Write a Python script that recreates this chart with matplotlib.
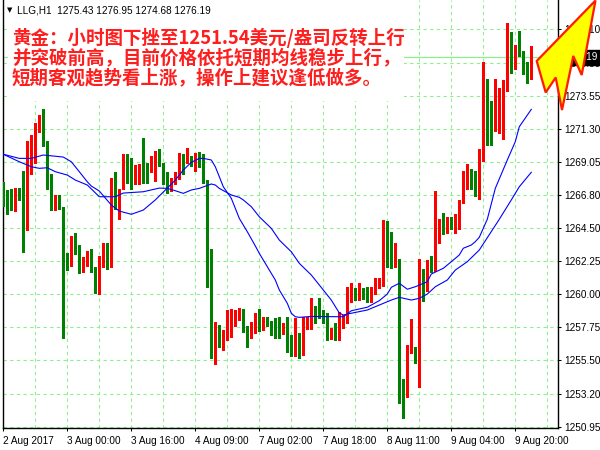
import matplotlib
matplotlib.use('Agg')
import matplotlib.pyplot as plt
from matplotlib.patches import Polygon, Rectangle
import numpy as np

# ---------------- data ----------------
opens = [1267.15, 1266.70, 1266.54, 1265.67, 1267.09, 1266.88, 1264.42, 1269.61, 1270.18, 1271.07,
         1271.94, 1270.12, 1268.02, 1266.29, 1266.52, 1265.95, 1262.78, 1261.92, 1263.58, 1263.05,
         1261.80, 1262.26, 1262.53, 1261.85, 1261.00, 1261.87, 1263.22, 1261.92, 1267.50, 1266.29,
         1267.73, 1268.94, 1268.46, 1267.66, 1268.18, 1268.64, 1268.41, 1268.46, 1268.46, 1269.07,
         1268.94, 1268.14, 1267.27, 1267.61, 1267.91, 1269.39, 1268.98, 1269.21, 1269.03, 1269.44,
         1268.80, 1267.73, 1261.74, 1256.81, 1257.27, 1256.63, 1257.11, 1257.74, 1258.20, 1258.31,
         1258.47, 1257.63, 1257.11, 1257.49, 1258.41, 1257.79, 1258.41, 1257.95, 1257.56, 1257.38,
         1257.33, 1257.95, 1257.11, 1255.85, 1256.58, 1256.20, 1257.71, 1257.78, 1258.99, 1258.85,
         1258.51, 1258.40, 1257.03, 1257.37, 1257.21, 1257.71, 1258.05, 1259.83, 1260.24, 1259.65,
         1259.94, 1259.94, 1259.67, 1260.01, 1260.45, 1260.56, 1263.77, 1263.70, 1262.22, 1262.38,
         1253.50, 1253.12, 1256.07, 1256.30, 1255.78, 1261.42, 1260.28, 1261.92, 1261.58, 1264.77,
         1264.93, 1264.84, 1265.06, 1264.47, 1264.99, 1266.25, 1267.66, 1268.00, 1267.50, 1266.59,
         1269.10, 1274.68, 1272.36, 1271.38, 1272.68, 1272.75, 1274.23, 1276.55, 1275.78, 1277.49,
         1276.62, 1275.71, 1275.43]
highs = [1267.66, 1267.15, 1267.20, 1267.27, 1267.27, 1268.41, 1270.46, 1270.91, 1271.71, 1272.21,
         1272.67, 1270.46, 1268.18, 1266.81, 1266.81, 1265.95, 1262.83, 1264.01, 1264.15, 1263.35,
         1262.55, 1262.92, 1263.10, 1261.85, 1262.60, 1263.47, 1263.51, 1267.96, 1268.34, 1267.16,
         1269.55, 1269.55, 1269.28, 1268.80, 1268.87, 1270.69, 1268.98, 1269.44, 1269.78, 1269.89,
         1268.98, 1268.34, 1267.96, 1268.37, 1269.62, 1269.55, 1269.96, 1269.44, 1269.62, 1269.73,
         1269.55, 1267.80, 1263.06, 1258.09, 1257.90, 1257.56, 1258.93, 1259.00, 1258.93, 1259.09,
         1259.00, 1257.86, 1258.13, 1258.70, 1258.97, 1258.47, 1258.41, 1258.18, 1258.36, 1258.41,
         1258.02, 1258.41, 1257.22, 1258.36, 1257.33, 1258.45, 1258.46, 1259.72, 1259.19, 1259.72,
         1258.92, 1258.69, 1257.67, 1258.01, 1258.81, 1258.58, 1260.51, 1260.74, 1260.40, 1260.74,
         1260.40, 1260.47, 1260.47, 1261.08, 1261.08, 1265.07, 1265.00, 1264.27, 1263.47, 1262.38,
         1254.19, 1256.53, 1258.29, 1256.41, 1262.38, 1261.69, 1262.33, 1262.60, 1267.05, 1265.15,
         1265.52, 1265.29, 1265.29, 1265.45, 1266.43, 1268.41, 1268.87, 1268.53, 1268.41, 1269.90,
         1275.87, 1274.70, 1273.20, 1274.73, 1274.11, 1274.61, 1278.56, 1277.92, 1277.05, 1277.99,
         1276.62, 1275.87, 1276.95]
lows = [1266.02, 1265.45, 1265.72, 1265.67, 1266.47, 1262.87, 1264.38, 1268.18, 1268.98, 1271.07,
        1270.12, 1267.20, 1265.74, 1265.74, 1265.79, 1257.01, 1261.64, 1261.92, 1262.78, 1261.46,
        1261.50, 1261.92, 1261.50, 1260.09, 1260.00, 1261.87, 1261.69, 1261.85, 1265.79, 1265.11,
        1267.16, 1267.61, 1267.16, 1267.50, 1267.50, 1267.61, 1267.61, 1268.34, 1267.73, 1268.75,
        1267.50, 1266.93, 1267.05, 1267.55, 1267.84, 1268.18, 1268.98, 1268.75, 1268.41, 1268.71,
        1267.57, 1260.50, 1255.62, 1255.22, 1256.36, 1256.17, 1256.88, 1257.11, 1257.86, 1258.25,
        1257.45, 1256.36, 1257.04, 1257.33, 1257.49, 1257.56, 1257.86, 1257.18, 1256.99, 1257.04,
        1257.27, 1256.08, 1255.81, 1255.81, 1255.63, 1255.85, 1257.60, 1257.60, 1258.05, 1258.35,
        1258.05, 1256.87, 1256.91, 1256.87, 1256.87, 1257.67, 1258.01, 1259.49, 1259.60, 1259.60,
        1259.65, 1259.49, 1259.49, 1260.01, 1260.45, 1260.56, 1261.88, 1261.77, 1261.88, 1252.54,
        1251.52, 1253.00, 1255.96, 1255.32, 1253.64, 1259.53, 1260.21, 1261.51, 1261.58, 1263.51,
        1264.08, 1264.20, 1264.43, 1264.20, 1264.43, 1266.20, 1267.16, 1267.16, 1266.70, 1266.48,
        1269.10, 1270.17, 1270.17, 1271.15, 1271.04, 1270.58, 1273.89, 1275.14, 1275.37, 1276.28,
        1275.02, 1274.41, 1274.68]
closes = [1266.58, 1266.52, 1265.74, 1267.09, 1266.74, 1264.49, 1270.39, 1270.30, 1271.12, 1271.89,
          1270.12, 1268.57, 1266.43, 1266.43, 1266.02, 1262.87, 1261.87, 1263.69, 1263.01, 1261.80,
          1262.30, 1262.44, 1261.85, 1261.00, 1262.48, 1263.29, 1261.96, 1267.50, 1266.29, 1267.09,
          1268.94, 1268.41, 1267.73, 1268.34, 1268.64, 1268.34, 1268.18, 1268.69, 1269.03, 1268.94,
          1268.14, 1267.43, 1267.80, 1268.30, 1269.44, 1268.98, 1269.21, 1268.91, 1269.28, 1268.75,
          1267.73, 1261.69, 1256.82, 1257.27, 1256.63, 1257.22, 1257.90, 1258.31, 1258.43, 1258.72,
          1257.56, 1257.18, 1257.56, 1258.41, 1257.72, 1258.41, 1257.86, 1257.45, 1257.27, 1257.22,
          1257.86, 1257.04, 1255.85, 1256.58, 1256.36, 1257.85, 1257.83, 1258.99, 1258.81, 1258.51,
          1258.35, 1257.03, 1257.60, 1257.23, 1257.71, 1258.05, 1259.88, 1260.24, 1259.67, 1259.94,
          1259.88, 1259.65, 1260.01, 1260.56, 1260.63, 1263.86, 1263.63, 1262.22, 1262.34, 1253.45,
          1253.12, 1256.07, 1256.30, 1255.78, 1260.90, 1260.74, 1261.92, 1261.81, 1266.93, 1264.93,
          1264.84, 1265.06, 1264.47, 1265.11, 1266.29, 1267.73, 1268.00, 1267.43, 1266.75, 1269.03,
          1274.73, 1272.29, 1271.84, 1272.63, 1272.75, 1274.27, 1276.55, 1275.71, 1277.01, 1276.62,
          1275.66, 1275.48, 1276.19]

# moving-average lines (bar index, price)
ma_fast_idx = [0, 4, 7, 10, 15, 17, 19, 21, 22, 24, 27, 29, 32, 35, 38, 41, 43, 45, 47, 49, 50, 52,
               53, 54, 55, 57, 58, 59, 61, 63, 64, 66, 68, 69, 71, 72, 73, 74, 77, 85, 87, 91, 94,
               96, 97, 99, 101, 103, 106, 107, 110, 112, 114, 115, 117, 118, 119, 121, 123, 126,
               128, 129, 132]
ma_fast_val = [1269.56, 1269.28, 1269.28, 1269.51, 1269.37, 1269.05, 1268.37, 1267.68, 1267.39,
               1267.05, 1266.09, 1265.68, 1265.46, 1265.75, 1266.44, 1267.25, 1267.80, 1268.48,
               1269.01, 1269.28, 1269.28, 1269.17, 1268.71, 1268.03, 1267.34, 1266.55, 1265.87,
               1265.18, 1264.27, 1263.30, 1262.79, 1261.88, 1260.97, 1260.29, 1259.38, 1258.70,
               1258.46, 1258.42, 1258.48, 1258.46, 1258.87, 1259.11, 1259.56, 1260.01, 1260.47,
               1260.75, 1260.34, 1260.51, 1260.85, 1261.38, 1261.77, 1262.22, 1262.68, 1263.14,
               1263.36, 1263.59, 1263.89, 1265.12, 1267.23, 1269.17, 1270.42, 1271.44, 1272.63]
ma_slow_idx = [0, 4, 7, 9, 11, 13, 16, 18, 21, 24, 25, 28, 30, 35, 39, 41, 43, 45, 47, 49, 52, 53,
               54, 56, 57, 59, 60, 62, 64, 67, 69, 72, 74, 77, 79, 82, 84, 85, 87, 91, 94, 97, 99,
               102, 104, 106, 108, 111, 113, 116, 119, 124, 127, 129, 132]
ma_slow_val = [1269.56, 1269.05, 1268.71, 1268.60, 1268.64, 1268.37, 1268.14, 1267.80, 1267.46,
               1266.66, 1266.66, 1266.66, 1266.91, 1267.00, 1267.25, 1267.23, 1267.07, 1266.89,
               1267.12, 1267.23, 1267.53, 1267.46, 1267.23, 1266.93, 1266.78, 1266.62, 1266.44,
               1265.98, 1265.29, 1264.50, 1263.70, 1262.90, 1262.11, 1261.31, 1260.63, 1259.60,
               1258.72, 1258.58, 1258.70, 1258.92, 1259.26, 1259.60, 1259.79, 1259.60, 1259.72,
               1260.01, 1260.51, 1260.97, 1261.65, 1262.22, 1263.02, 1265.12, 1266.44, 1267.34,
               1268.33]

x_tick_idx = [0, 16, 32, 48, 64, 80, 96, 112, 128]
x_tick_labels = ['2 Aug 2017', '3 Aug 00:00', '3 Aug 16:00', '4 Aug 09:00', '7 Aug 02:00',
                 '7 Aug 18:00', '8 Aug 11:00', '9 Aug 04:00', '9 Aug 20:00']
y_ticks = [1250.95, 1253.20, 1255.50, 1257.75, 1260.00, 1262.25, 1264.50, 1266.80, 1269.05,
           1271.30, 1273.55, 1275.80, 1278.10]
y_tick_labels = ['%.2f' % v for v in y_ticks]
last_price = 1276.19
header_text = 'LLG,H1  1275.43 1276.95 1274.68 1276.19'
note_lines = ['黄金：小时图下挫至1251.54美元/盎司反转上行',
              '并突破前高，目前价格依托短期均线稳步上行，',
              '短期客观趋势看上涨，操作上建议逢低做多。']

# ---------------- drawing ----------------
plt.rcParams['font.family'] = ['Liberation Sans', 'DejaVu Sans']
W, H = 600, 450
fig = plt.figure(figsize=(6, 4.5), dpi=100)
fig.patch.set_facecolor('white')
ax = fig.add_axes([3 / W, 22.3 / H, 554.5 / W, 427.7 / H])
ax.set_facecolor('white')

o = np.array(opens); c = np.array(closes); hi = np.array(highs); lo = np.array(lows)
idx = np.arange(len(c))
cols = np.where(c > o, '#FF0000', '#008000')

grid_col = '#90EE90'
ax.set_xlim(-0.075, 138.55)
ax.set_ylim(1250.88, 1280.10)

ax.set_xticks(x_tick_idx)
ax.set_xticklabels(x_tick_labels, ha='left', fontsize=7.2)
ax.set_xticks(np.arange(8, 139, 8), minor=True)
ax.set_yticks(y_ticks)
ax.set_yticklabels(y_tick_labels, fontsize=7.2)
ax.yaxis.tick_right()
ax.tick_params(axis='y', which='major', direction='out', length=2.2, width=0.75, pad=2.5,
               colors='black')
ax.tick_params(axis='x', which='major', direction='out', length=2.4, width=0.75, pad=3.5,
               colors='black')
ax.tick_params(axis='x', which='minor', length=0)
ax.grid(True, axis='x', which='both', color=grid_col, linestyle=(0, (3, 3)), lw=0.8, zorder=0)
ax.grid(True, axis='y', which='major', color=grid_col, linestyle=(0, (3, 3)), lw=0.8, zorder=0)
ax.set_axisbelow(True)
for s in ['left', 'right', 'bottom']:
    ax.spines[s].set_color('black'); ax.spines[s].set_linewidth(1.0)
ax.spines['top'].set_visible(False)

ax.axhline(last_price, color=grid_col, lw=0.9, zorder=1)

ax.vlines(idx, lo, hi, colors=cols, lw=0.75, zorder=3, antialiased=False)
body_h = np.maximum(np.abs(c - o), 0.07)
ax.bar(idx, body_h, bottom=np.minimum(o, c), width=0.72, color=cols, lw=0, zorder=4,
       antialiased=False)

ax.plot(ma_fast_idx, ma_fast_val, color='#0000FF', lw=0.8, zorder=5)
ax.plot(ma_slow_idx, ma_slow_val, color='#0000FF', lw=0.8, zorder=5)

# current price tag on the price axis
ax.text(1 + 4 / 554.5, last_price, '%.2f' % last_price, transform=ax.get_yaxis_transform(),
        color='white', fontsize=7.2, va='center', ha='left', zorder=6, clip_on=False,
        bbox=dict(boxstyle='square,pad=0.25', facecolor='black', edgecolor='black'))

# white panel behind header and note text
fig.patches.append(Rectangle((7.5 / W, 1 - 101 / H), (404 - 7.5) / W, 101 / H,
                             transform=fig.transFigure, facecolor='white', edgecolor='none',
                             zorder=1))
fig.text(9.5 / W, 1 - 10.5 / H, '▼', fontsize=5, family='DejaVu Sans', ha='center',
         va='center', color='black', zorder=2)
fig.text(17 / W, 1 - 10.5 / H, header_text, fontsize=7.2, ha='left', va='center', color='black',
         zorder=2)
for k, line in enumerate(note_lines):
    fig.text(12 / W, 1 - (38 + 19.7 * k) / H, line, fontsize=13.3, color='#FF1E1E',
             family=['Noto Sans CJK SC', 'DejaVu Sans'], weight='bold', ha='left',
             va='center', zorder=2)

# yellow arrow decoration (top right)
arrow_px = [(536.7, 61), (545.7, 92.5), (555.7, 77.5), (562, 110), (573.3, 56),
            (581.7, 75), (595.5, 0.5)]
fig.patches.append(Polygon([(x / W, 1 - y / H) for x, y in arrow_px], closed=True,
                           transform=fig.transFigure, facecolor='#FFFF00',
                           edgecolor='#FF1A00', lw=1.6, joinstyle='miter', zorder=3))

fig.savefig('out.png', dpi=100, facecolor='white')
